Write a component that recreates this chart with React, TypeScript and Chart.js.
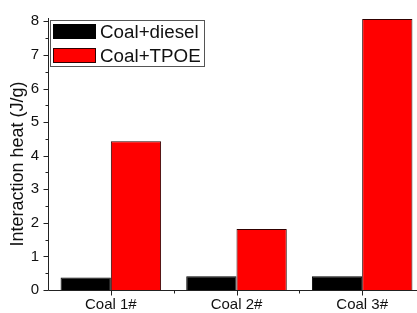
import React, { useEffect, useRef } from 'react';
import { Chart, registerables } from 'chart.js';

Chart.register(...registerables);

const categories = ['Coal 1#', 'Coal 2#', 'Coal 3#'];
const seriesLabels = ['Coal+diesel', 'Coal+TPOE'];
const dieselValues = [0.37, 0.41, 0.41];
const tpoeValues = [4.43, 1.82, 8.07];
const yTicks = [0, 1, 2, 3, 4, 5, 6, 7, 8];
const yTitle = 'Interaction heat (J/g)';

const FONT = "'Liberation Sans', Arial, Helvetica, sans-serif";

const originPlugin = {
  id: 'originDecor',
  afterDatasetsDraw(chart: any) {
    const { ctx, chartArea } = chart;
    const xs = chart.scales.x;
    const ys = chart.scales.y;
    const ax = Math.round(chartArea.left) + 0.5;
    const bottom = Math.round(chartArea.bottom) + 0.5;
    ctx.save();
    ctx.strokeStyle = '#222';
    ctx.lineWidth = 1;
    ctx.beginPath();
    ctx.moveTo(ax, Math.round(chartArea.top));
    ctx.lineTo(ax, bottom);
    ctx.moveTo(ax, bottom);
    ctx.lineTo(chart.width, bottom);
    yTicks.forEach((v) => {
      const py = Math.round(ys.getPixelForValue(v)) + 0.5;
      ctx.moveTo(ax - 5, py);
      ctx.lineTo(ax, py);
      if (v < yTicks[yTicks.length - 1]) {
        const pm = Math.round(ys.getPixelForValue(v + 0.5)) + 0.5;
        ctx.moveTo(ax - 3, pm);
        ctx.lineTo(ax, pm);
      }
    });
    categories.forEach((_, i) => {
      const px = Math.round(xs.getPixelForValue(i)) + 0.5;
      ctx.moveTo(px, bottom);
      ctx.lineTo(px, bottom + 5);
      if (i < categories.length - 1) {
        const pm = Math.round((xs.getPixelForValue(i) + xs.getPixelForValue(i + 1)) / 2) + 0.5;
        ctx.moveTo(pm, bottom);
        ctx.lineTo(pm, bottom + 3);
      }
    });
    ctx.stroke();

    ctx.save();
    ctx.translate(18, 164);
    ctx.rotate(-Math.PI / 2);
    ctx.fillStyle = '#111';
    ctx.font = `18px ${FONT}`;
    ctx.textAlign = 'center';
    ctx.textBaseline = 'middle';
    ctx.fillText(yTitle, 0, 0);
    ctx.restore();

    ctx.strokeStyle = '#555';
    ctx.lineWidth = 1;
    ctx.strokeRect(50.5, 20.5, 154, 46);
    const rows = [
      { y: 24, fill: '#000000', stroke: '#000000', label: chart.data.datasets[0].label },
      { y: 48, fill: '#ff0000', stroke: '#300000', label: chart.data.datasets[1].label },
    ];
    rows.forEach((r) => {
      ctx.fillStyle = r.fill;
      ctx.fillRect(53, r.y, 43, 15);
      ctx.strokeStyle = r.stroke;
      ctx.strokeRect(53.5, r.y + 0.5, 42, 14);
      ctx.fillStyle = '#111';
      ctx.font = `18.8px ${FONT}`;
      ctx.textAlign = 'left';
      ctx.textBaseline = 'middle';
      ctx.fillText(r.label, 100, r.y + 8.5);
    });
    ctx.restore();
  },
};

export default function App() {
  const ref = useRef<HTMLCanvasElement | null>(null);
  useEffect(() => {
    document.body.style.margin = '0';
    if (!ref.current) return;
    const chart = new Chart(ref.current, {
      type: 'bar',
      data: {
        labels: categories,
        datasets: [
          {
            label: seriesLabels[0],
            data: dieselValues,
            backgroundColor: '#000000',
            borderColor: '#000000',
            borderWidth: 1,
            categoryPercentage: 0.8,
            barPercentage: 1.0,
          },
          {
            label: seriesLabels[1],
            data: tpoeValues,
            backgroundColor: '#ff0000',
            borderColor: '#300000',
            borderWidth: 1,
            categoryPercentage: 0.8,
            barPercentage: 1.0,
          },
        ],
      },
      options: {
        animation: false,
        responsive: false,
        maintainAspectRatio: false,
        layout: { padding: { top: 11, right: 0, left: 0, bottom: 0 } },
        plugins: {
          legend: { display: false },
          tooltip: { enabled: false },
          title: { display: false },
        },
        scales: {
          x: {
            type: 'category',
            offset: true,
            grid: { display: false, drawTicks: false },
            border: { display: false },
            ticks: {
              color: '#111',
              font: { family: FONT, size: 15 },
              padding: 6,
              maxRotation: 0,
              autoSkip: false,
            },
            afterFit: (s: any) => {
              s.height = 23;
            },
          },
          y: {
            type: 'linear',
            min: 0,
            max: 8.1,
            grid: { display: false, drawTicks: false },
            border: { display: false },
            ticks: {
              stepSize: 1,
              includeBounds: false,
              color: '#111',
              font: { family: FONT, size: 15 },
              padding: 9,
            },
            afterFit: (s: any) => {
              s.width = 48;
            },
          },
        },
      },
      plugins: [originPlugin],
    });
    return () => chart.destroy();
  }, []);
  return (
    <div style={{ width: 417, height: 313, overflow: 'hidden', position: 'relative', background: '#fff' }}>
      <canvas ref={ref} width={425} height={313} style={{ width: 425, height: 313, display: 'block' }} />
    </div>
  );
}
